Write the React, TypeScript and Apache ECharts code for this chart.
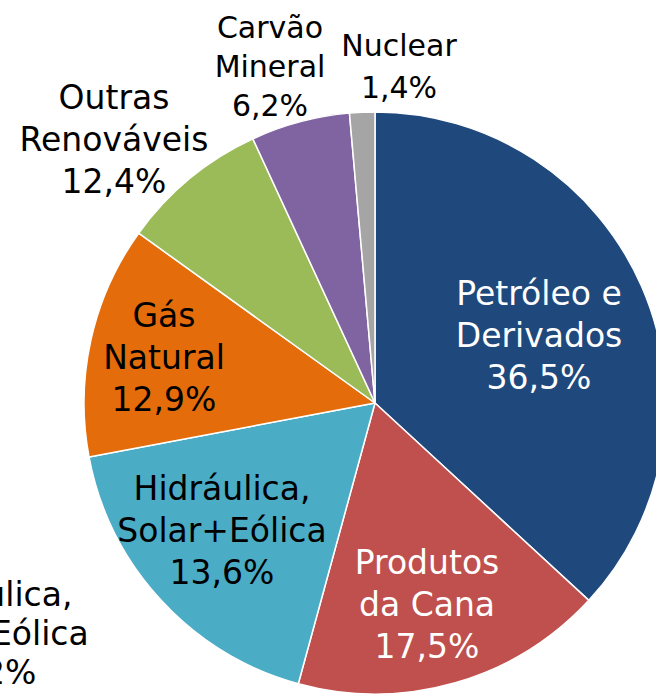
import React, { useEffect, useRef } from "react";
import * as echarts from "echarts";

const categories = [
  "Petróleo e\nDerivados",
  "Produtos\nda Cana",
  "Hidráulica,\nSolar+Eólica",
  "Gás\nNatural",
  "Outras\nRenováveis",
  "Carvão\nMineral",
  "Nuclear",
];
// slice sizes as drawn in the picture (%)
const sliceValues = [36.9, 17.4, 17.8, 12.9, 8.2, 5.5, 1.4];
// percentages printed in the labels
const labelValues = [36.5, 17.5, 13.6, 12.9, 12.4, 6.2, 1.4];
// partly visible stray label at the bottom-left edge
const ghostLabel = "Hidráulica,\nSolar+Eólica";
const ghostValue = 17.2;
const colors = ["#1F497D", "#C0504D", "#4BACC6", "#E46C0A", "#9BBB59", "#8064A2", "#A5A5A5"];
const labelColors = ["#FFFFFF", "#FFFFFF", "#000000", "#000000", "#000000", "#000000", "#000000"];

// label anchor positions (px): x, y, fontSize, lineHeight
const labelPos: [number, number, number, number][] = [
  [539, 335, 33, 42],
  [427, 604, 33, 42],
  [222, 530, 33, 42],
  [164, 357, 33, 42],
  [114, 139, 33, 42],
  [270, 66, 30, 39],
  [399, 66, 30, 42],
];

const fmt = (v: number) => v.toFixed(1).replace(".", ",") + "%";

export default function App() {
  const ref = useRef<HTMLDivElement>(null);
  useEffect(() => {
    if (!ref.current) return;
    const chart = echarts.init(ref.current, undefined, { renderer: "svg" });
    const font = "'DejaVu Sans', Verdana, sans-serif";
    chart.setOption({
      animation: false,
      backgroundColor: "#FFFFFF",
      series: [
        {
          type: "pie",
          center: [375, 403],
          radius: 291,
          startAngle: 90,
          clockwise: true,
          avoidLabelOverlap: false,
          itemStyle: { borderColor: "#FFFFFF", borderWidth: 1.5 },
          labelLine: { show: false },
          data: categories.map((name, i) => ({
            name,
            value: sliceValues[i],
            itemStyle: { color: colors[i] },
            label: {
              show: true,
              color: labelColors[i],
              fontFamily: font,
              fontSize: labelPos[i][2],
              lineHeight: labelPos[i][3],
              align: "center",
              formatter: () => name + "\n" + fmt(labelValues[i]),
            },
          })),
          labelLayout: (params: any) => {
            const p = labelPos[params.dataIndex];
            return { x: p[0], y: p[1], align: "center", verticalAlign: "middle" };
          },
        },
      ],
      graphic: [
        {
          type: "text",
          x: -16,
          y: 633,
          style: {
            text: ghostLabel + "\n" + fmt(ghostValue),
            font: "33px " + font,
            fill: "#000000",
            align: "center",
            verticalAlign: "middle",
            lineHeight: 39,
          },
        },
      ],
    });
    return () => chart.dispose();
  }, []);
  return (
    <div
      ref={ref}
      style={{ position: "fixed", left: 0, top: 0, width: 656, height: 694 }}
    />
  );
}
